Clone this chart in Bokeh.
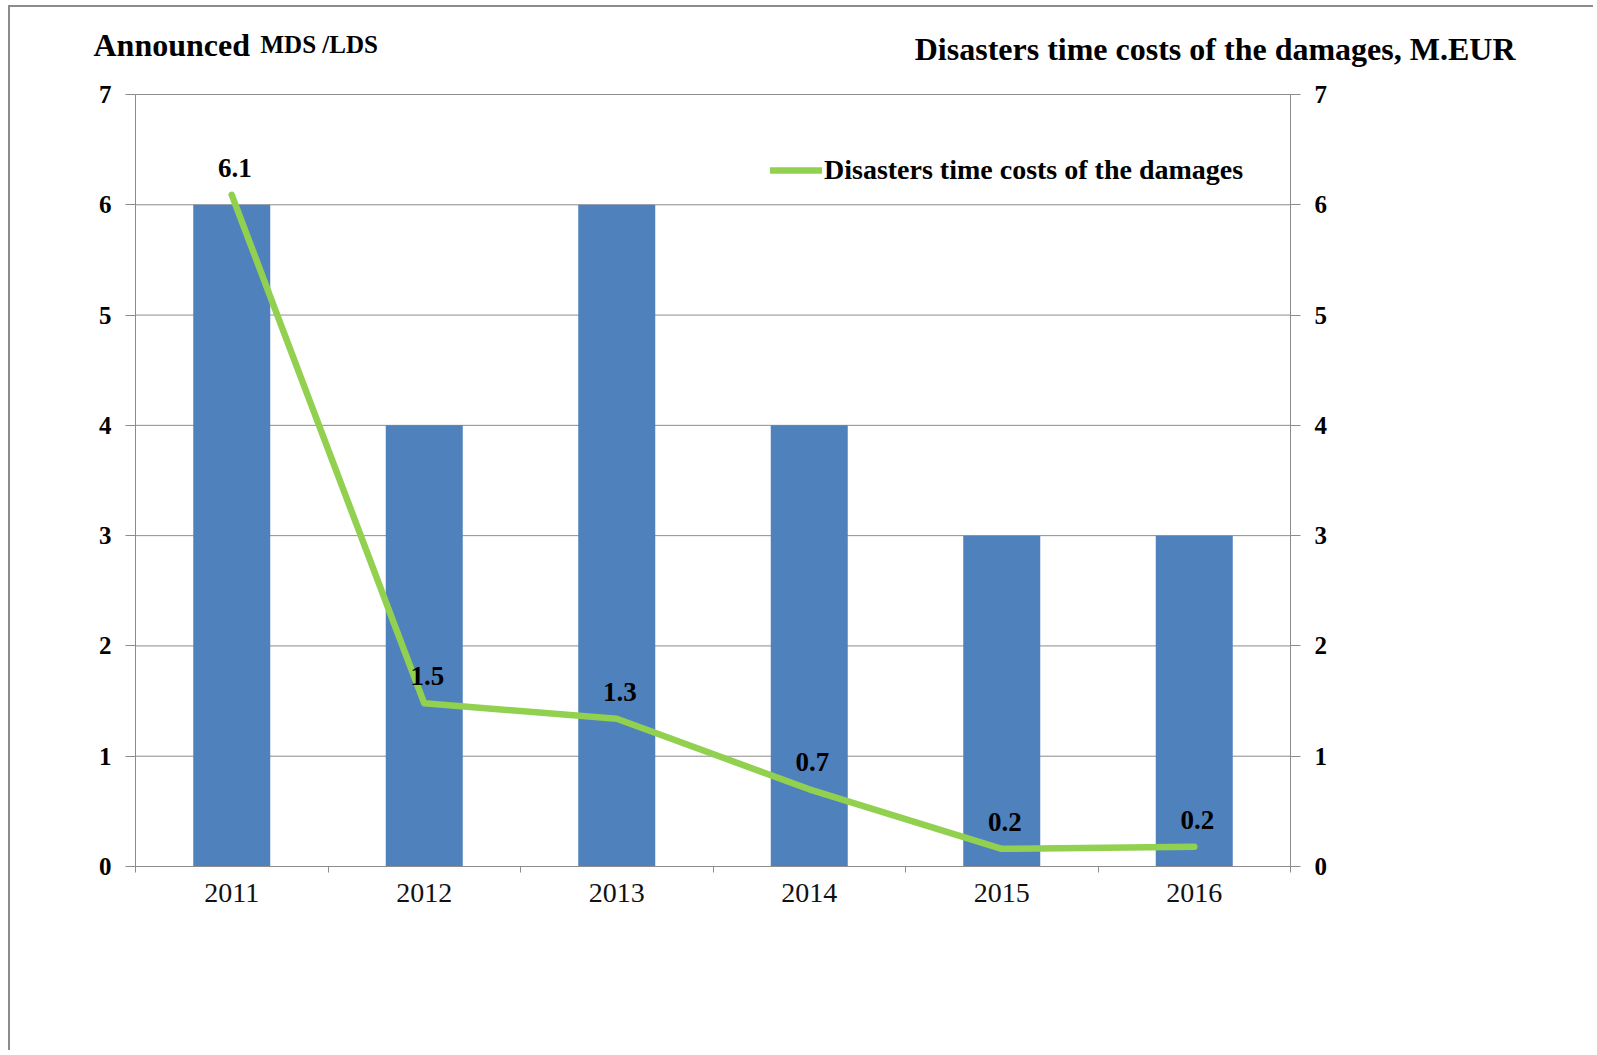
from bokeh.plotting import figure
from bokeh.models import (Range1d, LinearAxis, FixedTicker, Label, Legend, LegendItem,
                          ColumnDataSource)
from bokeh.core.properties import value
from bokeh.embed import file_html
from bokeh.resources import INLINE

# ---- data ----
years = ["2011", "2012", "2013", "2014", "2015", "2016"]
announced = [6, 4, 6, 4, 3, 3]                      # Announced MDS/LDS (bars, left axis)
costs = [6.09, 1.48, 1.34, 0.70, 0.16, 0.18]         # Disasters time costs, M.EUR (line, right axis)
y_ticks = [0, 1, 2, 3, 4, 5, 6, 7]

xs = list(range(1, len(years) + 1))
cost_labels = [f"{v:.1f}" for v in costs]

SERIF = "Liberation Serif"
BAR = "#4F81BD"
GREEN = "#92D050"
GRID = "#8c8c8c"

# ---- layout (page pixels) ----
OX, OY = 10, 7                 # figure content origin on the page (margin + border)
W, H = 1585, 1045
L, RB, T, B = 60, 55, 10, 70   # frame borders inside the figure
X_LO_PX, X_HI_PX = 135, 1290   # page px of the category band edges
Y0_PX, Y7_PX = 866, 94         # page px of y=0 and y=7

x_lo, x_hi = 0.5, len(years) + 0.5
fx_lo, fx_hi = X_LO_PX - OX, X_HI_PX - OX
ppx = (fx_hi - fx_lo) / (x_hi - x_lo)
xr_start = x_lo - (fx_lo - L) / ppx
xr_end = x_hi + ((W - RB) - fx_hi) / ppx
y_top = y_ticks[-1]
fy0, fy7 = Y0_PX - OY, Y7_PX - OY
ppy = (fy0 - fy7) / y_top
yr_end = y_top + (fy7 - T) / ppy
yr_start = -((H - B) - fy0) / ppy


def dx(px):
    return x_lo + (px - OX - fx_lo) / ppx


def dy(py):
    return (fy0 - (py - OY)) / ppy


p = figure(width=W, height=H, output_backend="svg", toolbar_location=None,
           x_range=Range1d(xr_start, xr_end), y_range=Range1d(yr_start, yr_end),
           min_border_left=L, min_border_right=RB, min_border_top=T,
           min_border_bottom=B, background_fill_color="white",
           border_fill_color="white")
p.styles = {"margin-left": "8px", "margin-top": "5px",
            "border-left": "2px solid #8c8c8c", "border-top": "2px solid #8c8c8c"}
p.outline_line_color = None
p.extra_y_ranges = {"right": Range1d(yr_start, yr_end)}

# horizontal gridlines (only across the category bands)
p.xgrid.visible = False
p.ygrid.visible = False
src_g = ColumnDataSource(dict(y=y_ticks))
p.segment(x0=x_lo, x1=x_hi, y0="y", y1="y", source=src_g, line_color=GRID, line_width=1)

# bars
src_b = ColumnDataSource(dict(x=xs, top=announced))
p.vbar(x="x", top="top", width=0.4, source=src_b, fill_color=BAR, line_color=None)

# line + data labels
src_l = ColumnDataSource(dict(x=xs, y=costs, lab=cost_labels))
ln = p.line(x="x", y="y", source=src_l, line_color=GREEN, line_width=6.5,
            line_cap="round", line_join="round", y_range_name="right")
p.text(x="x", y="y", text="lab", source=src_l, y_range_name="right",
       text_font=value(SERIF), text_font_style="bold", text_font_size="27px",
       text_align="center", text_baseline="bottom", y_offset=-18, x_offset=3,
       text_color="black")

# x axis
xa = p.xaxis[0]
xa.fixed_location = 0
xa.bounds = (x_lo, x_hi)
xa.ticker = FixedTicker(ticks=xs, minor_ticks=[x - 0.5 for x in xs] + [xs[-1] + 0.5])
xa.major_label_overrides = {x: y for x, y in zip(xs, years)}
xa.major_tick_line_color = None
xa.minor_tick_in = 0
xa.minor_tick_out = 6
xa.minor_tick_line_color = GRID
xa.axis_line_color = GRID
xa.major_label_text_font = SERIF
xa.major_label_text_font_size = "28px"
xa.major_label_text_color = "#111111"
xa.major_label_standoff = 11


def style_y(ax):
    ax.ticker = FixedTicker(ticks=y_ticks)
    ax.bounds = (0, y_top)
    ax.axis_line_color = GRID
    ax.major_tick_line_color = GRID
    ax.major_tick_in = 0
    ax.major_tick_out = 10
    ax.minor_tick_line_color = None
    ax.major_label_text_font = SERIF
    ax.major_label_text_font_style = "bold"
    ax.major_label_text_font_size = "25px"
    ax.major_label_text_color = "black"
    ax.major_label_standoff = 14


ya = p.yaxis[0]
style_y(ya)
ya.fixed_location = x_lo

ra = LinearAxis(y_range_name="right")
style_y(ra)
ra.fixed_location = x_hi
p.add_layout(ra, "right")

# axis titles
p.add_layout(Label(x=dx(93), y=dy(44), text="Announced", text_font=SERIF,
                   text_font_style="bold", text_font_size="32px", text_color="black",
                   text_baseline="alphabetic", text_align="left"))
p.add_layout(Label(x=dx(260), y=dy(44), text="MDS /LDS", text_font=SERIF,
                   text_font_style="bold", text_font_size="25px", text_color="black",
                   text_baseline="alphabetic", text_align="left"))
p.add_layout(Label(x=dx(1515), y=dy(48), text="Disasters time costs of the damages, M.EUR",
                   text_font=SERIF, text_font_style="bold", text_font_size="32px",
                   text_color="black", text_baseline="alphabetic", text_align="right"))

# legend
leg = Legend(items=[LegendItem(label="Disasters time costs of the damages", renderers=[ln])],
             location=(770 - OX - L, ((H - B) - (171 - OY + 15))), orientation="vertical",
             label_text_font=SERIF, label_text_font_style="bold", label_text_color="black",
             label_text_font_size="28px", glyph_width=52, glyph_height=26,
             label_standoff=2, padding=0, margin=0, spacing=0,
             border_line_color=None, background_fill_alpha=0)
p.add_layout(leg)

open("out.html", "w").write(file_html(p, INLINE))
